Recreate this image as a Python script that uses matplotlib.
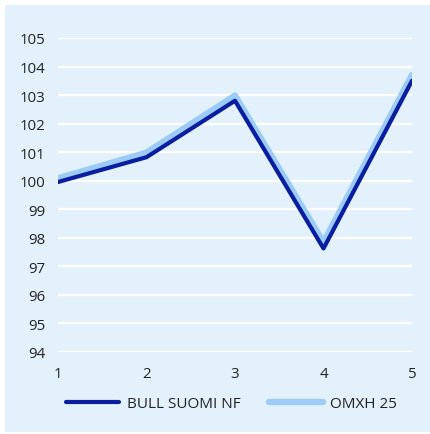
import matplotlib
matplotlib.use("Agg")
import matplotlib.pyplot as plt
from matplotlib.patches import Rectangle

# ---- data ----
x_vals = [1, 2, 3, 4, 5]
bull_suomi = [99.95, 100.82, 102.80, 97.62, 103.50]
omxh25 = [100.08, 100.98, 102.98, 97.84, 103.70]
y_ticks = list(range(94, 106))

BG = '#E3F1FD'
DARK = '#0A1EA0'
LIGHT = '#9CCBF8'

plt.rcParams['font.family'] = ['Open Sans', 'DejaVu Sans']

fig = plt.figure(figsize=(4.30, 4.35), dpi=100)
fig.patch.set_facecolor('white')
# light blue panel behind everything
fig.patches.append(Rectangle((5 / 430, 2 / 435), 1 - 5 / 430, 1 - 8 / 435,
                             transform=fig.transFigure, facecolor=BG,
                             edgecolor='none', zorder=-10))

ax = fig.add_axes([58 / 430, 1 - 352.7 / 435, (412 - 58) / 430, (352.7 - 39) / 435])
ax.set_facecolor('none')

ax.plot(x_vals, omxh25, color=LIGHT, lw=4.6, solid_capstyle='round',
        solid_joinstyle='round', label='OMXH 25', zorder=3)
ax.plot(x_vals, bull_suomi, color=DARK, lw=3.0, solid_capstyle='round',
        solid_joinstyle='round', label='BULL SUOMI NF', zorder=4)

ax.set_xlim(1, 5)
ax.set_ylim(94, 105)
ax.set_xticks(x_vals)
ax.set_yticks(y_ticks)
ax.grid(axis='y', color='white', lw=1.6, zorder=1)
ax.set_axisbelow(True)
for s in ax.spines.values():
    s.set_visible(False)
ax.tick_params(axis='both', length=0, labelsize=10.8, labelcolor='#222222')
ax.tick_params(axis='y', pad=9)
ax.tick_params(axis='x', pad=10)

handles, labels = ax.get_legend_handles_labels()
leg = ax.legend(handles[::-1], labels[::-1], ncol=2, loc='center',
                bbox_to_anchor=(0.49, -0.165), frameon=False, fontsize=11,
                handlelength=3.5, handletextpad=0.5, columnspacing=1.9)
for t in leg.get_texts():
    t.set_color('#222222')

fig.savefig('out.png', dpi=100)
